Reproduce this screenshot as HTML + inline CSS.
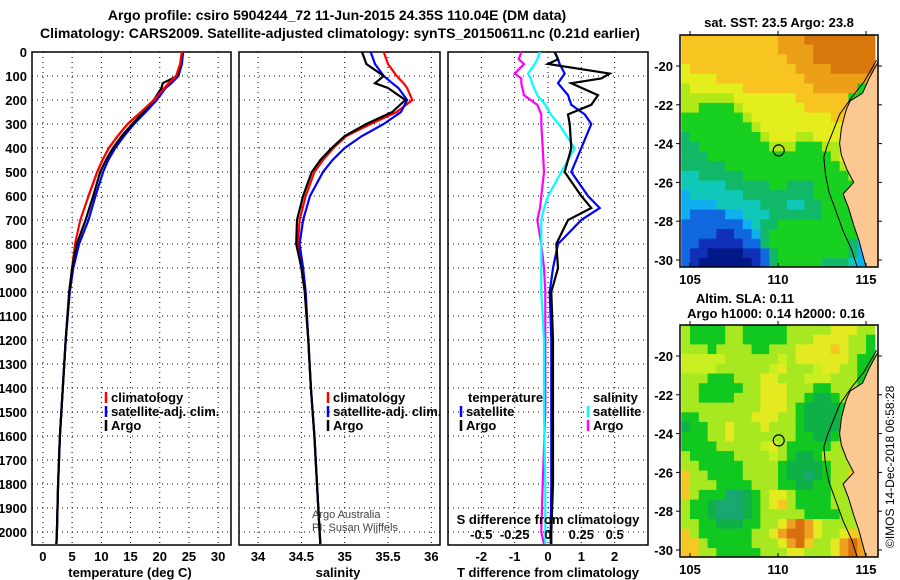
<!DOCTYPE html>
<html><head><meta charset="utf-8"><style>
body{margin:0;background:#fff;}
svg{display:block;font-family:"Liberation Sans",sans-serif;}
.t{font-size:13px;font-weight:bold;}
.ti{font-size:14px;font-weight:bold;}
</style></head><body>
<svg id="fig" width="900" height="580" viewBox="0 0 900 580">
<text class="ti" x="337" y="20" text-anchor="middle">Argo profile: csiro 5904244_72 11-Jun-2015 24.35S 110.04E (DM data)</text>
<text class="ti" x="340" y="38" text-anchor="middle">Climatology: CARS2009. Satellite-adjusted climatology: synTS_20150611.nc (0.21d earlier)</text>
<g id="g1"></g>
<g id="g2"></g>
<g id="g3"></g>
<g id="m1"></g>
<g id="m2"></g>
<text x="894" y="548" font-size="12" transform="rotate(-90 894 548)">©IMOS 14-Dec-2018 06:58:28</text>
</svg>
<script>
// ---- data ----
const depths = [0,50,100,130,150,200,250,300,350,400,450,500,600,700,800,900,1000,1200,1400,1600,1800,2000,2050];
const tempArgo = [23.8,23.6,23.0,20.5,20.3,19.0,17.2,15.3,13.5,12.0,10.8,9.8,8.6,7.3,5.8,5.0,4.5,3.9,3.4,2.9,2.6,2.4,2.3];
const tempClim = [23.8,23.5,22.8,21.5,20.8,19.0,16.8,14.5,12.8,11.3,10.2,9.3,7.8,6.4,5.5,5.0,4.5,3.9,3.4,2.9,2.6,2.4,2.3];
const tempSat  = [24.0,23.8,23.2,22.0,21.0,19.5,17.6,15.6,13.9,12.4,11.2,10.3,9.0,7.8,6.2,5.2,4.6,3.9,3.4,2.9,2.6,2.4,2.3];
const salArgo = [35.2,35.25,35.45,35.35,35.5,35.7,35.55,35.25,35.0,34.85,34.72,34.62,34.52,34.45,34.44,34.5,34.54,34.58,34.61,34.65,34.68,34.71,34.72];
const salClim = [35.45,35.5,35.6,35.68,35.72,35.78,35.6,35.3,35.02,34.87,34.75,34.65,34.55,34.48,34.46,34.5,34.54,34.58,34.61,34.65,34.68,34.71,34.72];
const salSat  = [35.3,35.35,35.45,35.55,35.62,35.72,35.65,35.45,35.2,35.0,34.86,34.75,34.6,34.52,34.48,34.52,34.55,34.58,34.61,34.65,34.68,34.71,34.72];
const dDepths = [0,30,50,90,110,130,180,220,260,300,400,500,600,650,700,800,900,1000,1200,1500,1800,2000,2050];
const dTArgo = [0.2,0.3,0.0,1.85,1.6,0.7,1.5,1.3,0.6,0.65,0.7,0.5,1.0,1.3,0.6,0.25,0.3,0.1,0.15,0.15,0.15,0.1,0.1];
const dTSat  = [0.2,0.3,0.35,0.5,0.4,0.3,0.6,0.7,1.1,1.3,1.0,0.7,1.2,1.55,1.0,0.3,0.15,0.05,0.1,0.1,0.1,0.08,0.08];
const dSSat  = [-0.06,-0.08,-0.1,-0.15,-0.13,-0.12,-0.08,-0.02,0.02,0.08,0.2,0.1,0.0,-0.03,-0.05,-0.05,-0.05,-0.05,-0.03,-0.03,-0.02,-0.02,-0.02];
const dSArgo = [-0.2,-0.22,-0.18,-0.25,-0.2,-0.2,-0.18,-0.08,-0.05,-0.05,-0.04,-0.03,-0.05,-0.06,-0.08,-0.05,-0.03,-0.02,-0.02,-0.02,-0.04,-0.05,-0.03];
const depthTicks = [0,100,200,300,400,500,600,700,800,900,1000,1100,1200,1300,1400,1500,1600,1700,1800,1900,2000];
const tempTicks = [0,5,10,15,20,25,30];
const salTicks = [34,34.5,35,35.5,36];
const dTTicks = [-2,-1,0,1,2];
const dSTicks = [-0.5,-0.25,0,0.25,0.5];
const dSLabels = ['-0.5','-0.25','0','0.25','0.5'];
const lonTicks = [105,110,115];
const latTicks = [-20,-22,-24,-26,-28,-30];
const sstRows = [
"yyyyyyyyyyyoooOOOOOOOO","yyyyyyyyyyyooooOOOOOOO","yyyyyyyyyyyyoooOOOOOOO","YyyyyyyyyyyyyooooOOOOO",
"YYYYyyyyyyyyyyoooooooo","LYYYYYYyyyyyyyyoooooGG","LLLLLLYYYYYYYyyyyyyGGG","LLGGGGLYYYYYYYyyyyyyGG",
"GGGGGGGLYYYYYYYYYyyyyG","GGGGGGGGLYYYYYYYYYYyyy","gGGGGGGGGLYYYLLYYYYyyy","ggGGGGGGGGLLLGGGLLYYYy",
"gggGGGGGGGGGGGGGGLYYYy","gggggGGGGGGGGGGGGGLYcB","CCgggggGGGGGGGGGGGGLBD","CCCCCgggggGGgggGGGGGcD",
"cCCCCCCggggggggGGGGGGY","ccccCCCCCgggCCggGGGGGG","cBBBBccCCCggggggGGGGGG","BBBBBBBcCggGGGGGGGGGGc",
"BBBBDDBBcgGGGGGGGGGGcc","BBDDDDDBBgGGGGGGGGGgcc","BDDNNNNDDBgGGGGGGGGgcc","BDNNNNNNDBgGGGGGgggCcc"];
const slaRows = [
"LGGGGLLGGGGGLLLLLYYYLL","LGGGGLLGGGGGLLLYYYYLLG","LLLGLLLLGGLLLYYYYyYLLG","lllllLLLLLLlLYYYYYYLGG",
"llllLLLLLLlYLLLlYYLLGG","LLLGGGLLLYYLLLlllLLLGG","LLGGGGGLLYYYLLLGGLLLGG","LLGGGGLLLYYYLLGggGLLLL",
"LLLLLLLLLYYYLGggggGLLL","GGLLLLLLYYYLLGggggGLLL","gGGLLYLLLYLLLGggggGLLL","GGGLLYLLLLLLLGGggGLLLL",
"GGGGLLLLLlYLGGGGGLLLLL","LGGGGGLLLLlLGggGLLLLLL","LLGGGGGLLLLGggggGLLLyL","yLLGGGGLLLLGggtgGLLyyL",
"yLLLGGGGLLLGGggGGLLLLL","yLGGGttgGLYYLGGGGLLLLY","LGGgtttgGLYyLGGGGLLLLY","LGGgtttgGLLLLLGGGGLLLY",
"LLGGgggGGLLYoOoYLLLLYY","yLGGGGGGLLYoOOoYLLYyyY","yyLGGGGGLLLYoOyLLYoOoY","yyLLGGGGGLLLYYLLLYoOoY"];
const coastLon = [115.68,115.2,114.8,114.1,113.9,113.8,113.6,113.5,113.6,113.9,114.3,113.7,114.0,114.3,114.6,114.9,115.0];
const coastLat = [-19.8,-20.6,-21.4,-21.8,-22.2,-22.5,-23.2,-24.0,-24.6,-25.3,-26.0,-26.6,-27.3,-28.2,-29.0,-30.0,-30.36];
const isoLon = [115.6,114.9,114.2,113.5,113.2,112.8,112.6,112.7,112.9,113.3,113.7,114.2,114.5];
const isoLat = [-19.7,-20.8,-21.6,-22.5,-23.2,-24.1,-24.7,-25.6,-26.5,-27.5,-28.5,-29.5,-30.36];
const floatLon = 110.04, floatLat = -24.35;

const NS='http://www.w3.org/2000/svg';
function mk(parent,tag,attrs,txt){const e=document.createElementNS(NS,tag);for(const k in attrs)e.setAttribute(k,attrs[k]);if(txt!==undefined)e.textContent=txt;parent.appendChild(e);return e;}
const top0=52, bot=545;
const yD = d => top0 + d*0.24;

function panel(g,x0,x1,dmin,dmax,ticks,labels,name){
  const xs = v => x0 + (v-dmin)/(dmax-dmin)*(x1-x0);
  const r=mk(g,'rect',{x:x0,y:top0,width:x1-x0,height:bot-top0,fill:'#fff',stroke:'#000','stroke-width':1.5});
  
  
  depthTicks.forEach(d=>{const l=mk(g,'line',{x1:x0,x2:x1,y1:yD(d),y2:yD(d),stroke:'#000','stroke-dasharray':'1,4'});
    
    });
  ticks.forEach((v,i)=>{const l=mk(g,'line',{x1:xs(v),x2:xs(v),y1:top0,y2:bot,stroke:'#000','stroke-dasharray':'1,4'});
    
    
    const t=mk(g,'text',{x:xs(v),y:561,'text-anchor':'middle',class:'t'},labels[i]);
    
    });
  return xs;
}
function line(g,xs,vals,ds,col,name){
  const pts=vals.map((v,i)=>xs(v).toFixed(1)+','+yD(ds[i]).toFixed(1)).join(' ');
  const p=mk(g,'polyline',{points:pts,fill:'none',stroke:col,'stroke-width':2.2});
  
  
}
function legend(g,x,y,col,txt,name){
  const l=mk(g,'line',{x1:x,x2:x,y1:y-10,y2:y+1,stroke:col,'stroke-width':2.5});
  
  
  const t=mk(g,'text',{x:x+5,y:y,class:'t'},txt);
  
  
}
const svg=document.getElementById('fig');
// depth labels
depthTicks.forEach(d=>{const t=mk(svg,'text',{x:27,y:yD(d)+5,'text-anchor':'end',class:'t'},String(d));
  
  });

// panel 1
const g1=document.getElementById('g1');
const xT=panel(g1,32,231,-1.87,32.2,tempTicks,tempTicks.map(String),'temperature-panel');
line(g1,xT,tempClim,depths,'#f00','temp-climatology-line');
line(g1,xT,tempSat,depths,'#00f','temp-satellite-line');
line(g1,xT,tempArgo,depths,'#000','temp-argo-line');
line(g1,xT,tempClim.slice(0,13),depths.slice(0,13),'#f00','temp-climatology-line-top');
legend(g1,106,402,'#f00','climatology','legend-climatology');
legend(g1,106,416,'#00f','satellite-adj. clim.','legend-satellite');
legend(g1,106,430,'#000','Argo','legend-argo');
let t=mk(g1,'text',{x:130,y:577,'text-anchor':'middle',class:'t'},'temperature (deg C)');



// panel 2
const g2=document.getElementById('g2');
const xS=panel(g2,239,440,33.78,36.1,salTicks,salTicks.map(String),'salinity-panel');
line(g2,xS,salClim,depths,'#f00','sal-climatology-line');
line(g2,xS,salSat,depths,'#00f','sal-satellite-line');
line(g2,xS,salArgo,depths,'#000','sal-argo-line');
legend(g2,328,402,'#f00','climatology','legend-climatology-sal');
legend(g2,328,416,'#00f','satellite-adj. clim.','legend-satellite-sal');
legend(g2,328,430,'#000','Argo','legend-argo-sal');
t=mk(g2,'text',{x:312,y:518,'font-size':11,fill:'#444'},'Argo Australia');


t=mk(g2,'text',{x:312,y:531,'font-size':11,fill:'#444'},'PI: Susan Wijffels');


t=mk(g2,'text',{x:338,y:577,'text-anchor':'middle',class:'t'},'salinity');



// panel 3
const g3=document.getElementById('g3');
const xD=panel(g3,448,648,-3,3,dTTicks,dTTicks.map(String),'difference-panel');
const xDS = s => xD(s*4);
line(g3,xDS,dSArgo,dDepths,'#f0f','sal-diff-argo-line');
line(g3,xDS,dSSat,dDepths,'#0ff','sal-diff-satellite-line');
line(g3,xD,dTSat,dDepths,'#00f','temp-diff-satellite-line');
line(g3,xD,dTArgo,dDepths,'#000','temp-diff-argo-line');
t=mk(g3,'text',{x:468,y:402,class:'t'},'temperature');


legend(g3,461,416,'#00f','satellite','legend-temp-satellite');
legend(g3,461,430,'#000','Argo','legend-temp-argo');
t=mk(g3,'text',{x:593,y:402,class:'t'},'salinity');


legend(g3,588,416,'#0ff','satellite','legend-sal-satellite');
legend(g3,588,430,'#f0f','Argo','legend-sal-argo');
t=mk(g3,'text',{x:548,y:524,'text-anchor':'middle',class:'t'},'S difference from climatology');


dSTicks.forEach((s,i)=>{const e=mk(g3,'text',{x:xDS(s),y:539,'text-anchor':'middle',class:'t'},dSLabels[i]);
  
  });
t=mk(g3,'text',{x:548,y:577,'text-anchor':'middle',class:'t'},'T difference from climatology');



// maps
const sstPal={O:'#d8780c',o:'#eca018',y:'#f8c420',Y:'#e4ee1c',L:'#b0e818',G:'#18d020',g:'#10b868',C:'#10c8b8',c:'#10b0f0',B:'#1068e0',D:'#1030b8',N:'#001888'};
const slaPal={G:'#10c820',g:'#10b048',t:'#18a870',L:'#a8e820',l:'#c8f020',Y:'#e4ea20',y:'#f6c824',o:'#eea020',O:'#d87010'};
function map(g,mTop,rows,pal,name){
  const mx0=680,mx1=878,mBot=mTop+232;
  const lx = lon => 690+(lon-105)*17.6;
  const ly = lat => mTop+31+(-20-lat)*19.4;
  const cid='clip'+name;
  const cp=mk(g,'clipPath',{id:cid});mk(cp,'rect',{x:mx0,y:mTop,width:mx1-mx0,height:mBot-mTop});
  const inner=mk(g,'g',{'clip-path':'url(#'+cid+')'});
  rows.forEach((row,r)=>{for(let c=0;c<row.length;c++){
    const lon=104.5+c*0.5, lat=-18.4-r*0.5;
    const e=mk(inner,'rect',{x:lx(lon).toFixed(1),y:ly(lat).toFixed(1),width:9.4,height:10.3,fill:pal[row[c]]});
    
    }});
  let pts=coastLon.map((v,i)=>lx(v).toFixed(1)+','+ly(coastLat[i]).toFixed(1)).join(' ');
  pts+=' '+mx1+','+mBot+' '+mx1+','+ly(-19.8).toFixed(1);
  const land=mk(inner,'polygon',{points:pts,fill:'#fbc894',stroke:'#000','stroke-width':1});
  
  
  const iso=mk(inner,'polyline',{points:isoLon.map((v,i)=>lx(v).toFixed(1)+','+ly(isoLat[i]).toFixed(1)).join(' '),fill:'none',stroke:'#000','stroke-width':1});
  
  
  const fr=mk(g,'rect',{x:mx0,y:mTop,width:mx1-mx0,height:mBot-mTop,fill:'none',stroke:'#000','stroke-width':1.5});
  
  
  const ci=mk(g,'circle',{cx:lx(floatLon),cy:ly(floatLat),r:5.5,fill:'none',stroke:'#000','stroke-width':1.2});
  
  
  lonTicks.forEach(v=>{mk(g,'line',{x1:lx(v),x2:lx(v),y1:mBot,y2:mBot-4,stroke:'#000'});mk(g,'line',{x1:lx(v),x2:lx(v),y1:mTop,y2:mTop-4,stroke:'#000'});
    const e=mk(g,'text',{x:lx(v),y:mBot+17,'text-anchor':'middle',class:'t'},String(v));
    
    });
  latTicks.forEach(v=>{mk(g,'line',{x1:mx0,x2:mx0-4,y1:ly(v),y2:ly(v),stroke:'#000'});mk(g,'line',{x1:mx1,x2:mx1+4,y1:ly(v),y2:ly(v),stroke:'#000'});
    const e=mk(g,'text',{x:673,y:ly(v)+5,'text-anchor':'end',class:'t'},String(v));
    
    });
}
const m1=document.getElementById('m1');
map(m1,35,sstRows,sstPal,'sst-map');
t=mk(m1,'text',{x:779,y:27,'text-anchor':'middle',class:'t'},'sat. SST: 23.5 Argo: 23.8');


const m2=document.getElementById('m2');
map(m2,325,slaRows,slaPal,'sla-map');
t=mk(m2,'text',{x:745,y:303,'text-anchor':'middle',class:'t'},'Altim. SLA: 0.11');


t=mk(m2,'text',{x:776,y:318,'text-anchor':'middle',class:'t'},'Argo h1000: 0.14 h2000: 0.16');


</script>
</body></html>
